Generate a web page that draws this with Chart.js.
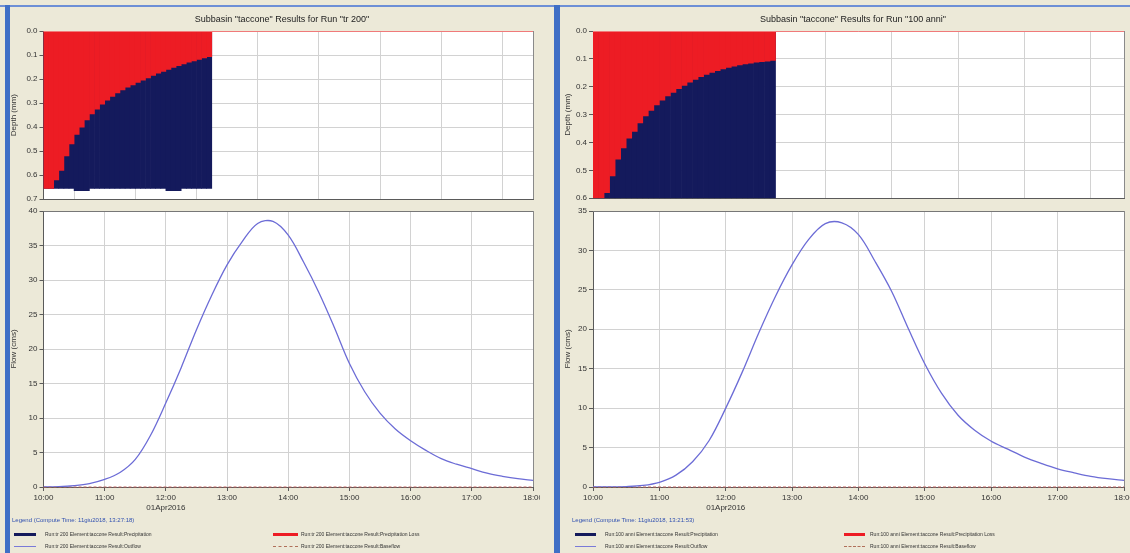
<!DOCTYPE html>
<html>
<head>
<meta charset="utf-8">
<script src="https://cdn.jsdelivr.net/npm/chart.js@4.4.1/dist/chart.umd.min.js"></script>
<style>
  body { margin: 0; width: 1130px; height: 553px; background: #ece9d8; position: relative; overflow: hidden; font-family: "Liberation Sans", Arial, sans-serif; }
  .clip { position: absolute; top: 0; height: 553px; overflow: hidden; }
  .clip canvas { position: absolute; }
  .bar { position: absolute; background: #3f6fc6; }
  .title { position: absolute; top: 14px; font-size: 9px; color: #222; transform: translateX(-50%); white-space: nowrap; }
  .legTitle { position: absolute; font-size: 6px; color: #3050b0; white-space: nowrap; }
  .legItem { position: absolute; font-size: 5px; color: #333; white-space: nowrap; }
  .sw { position: absolute; }
</style>
</head>
<body>

<div class="clip" style="left:0; width:540px;">
  <canvas id="depthTr200" width="548" height="184" style="left:5px; top:22px;"></canvas>
  <canvas id="flowTr200" width="548" height="314" style="left:5px; top:203px;"></canvas>
</div>
<div class="clip" style="left:556px; width:574px;">
  <canvas id="depth100" width="581" height="183" style="left:3px; top:22px;"></canvas>
  <canvas id="flow100" width="581" height="314" style="left:3px; top:203px;"></canvas>
</div>

<!-- cornici blu delle finestre -->
<div class="bar" style="left:0; top:5px; width:1130px; height:2px; background:#6d8fd6;"></div>
<div class="bar" style="left:5px; top:5px; width:5px; height:548px;"></div>
<div class="bar" style="left:554px; top:5px; width:6px; height:548px;"></div>

<div class="title" style="left:282px;">Subbasin "taccone" Results for Run "tr 200"</div>
<div class="title" style="left:853px;">Subbasin "taccone" Results for Run "100 anni"</div>

<!-- legenda sinistra -->
<div class="legTitle" style="left:12px; top:517px;">Legend (Compute Time: 11giu2018, 13:27:18)</div>
<div class="sw" style="left:14px; top:533px; width:22px; height:3px; background:#141a5c;"></div>
<div class="legItem" style="left:45px; top:531px;">Run:tr 200 Element:taccone Result:Precipitation</div>
<div class="sw" style="left:273px; top:533px; width:25px; height:3px; background:#ed1c24;"></div>
<div class="legItem" style="left:301px; top:531px;">Run:tr 200 Element:taccone Result:Precipitation Loss</div>
<div class="sw" style="left:14px; top:546px; width:22px; height:1px; background:#7a7ad8;"></div>
<div class="legItem" style="left:45px; top:543px;">Run:tr 200 Element:taccone Result:Outflow</div>
<div class="sw" style="left:273px; top:546px; width:25px; height:0; border-top:1px dashed #b0705a;"></div>
<div class="legItem" style="left:301px; top:543px;">Run:tr 200 Element:taccone Result:Baseflow</div>

<!-- legenda destra -->
<div class="legTitle" style="left:572px; top:517px;">Legend (Compute Time: 11giu2018, 13:21:53)</div>
<div class="sw" style="left:575px; top:533px; width:21px; height:3px; background:#141a5c;"></div>
<div class="legItem" style="left:605px; top:531px;">Run:100 anni Element:taccone Result:Precipitation</div>
<div class="sw" style="left:844px; top:533px; width:21px; height:3px; background:#ed1c24;"></div>
<div class="legItem" style="left:870px; top:531px;">Run:100 anni Element:taccone Result:Precipitation Loss</div>
<div class="sw" style="left:575px; top:546px; width:21px; height:1px; background:#7a7ad8;"></div>
<div class="legItem" style="left:605px; top:543px;">Run:100 anni Element:taccone Result:Outflow</div>
<div class="sw" style="left:844px; top:546px; width:21px; height:0; border-top:1px dashed #b0705a;"></div>
<div class="legItem" style="left:870px; top:543px;">Run:100 anni Element:taccone Result:Baseflow</div>

<script>
// ===== Dati =====

const dateLabel = "01Apr2016";

// fine di ogni intervallo di pioggia da 5 minuti
const precipTimes = ["10:05", "10:10", "10:15", "10:20", "10:25", "10:30", "10:35", "10:40", "10:45", "10:50", "10:55",
  "11:00", "11:05", "11:10", "11:15", "11:20", "11:25", "11:30", "11:35", "11:40", "11:45", "11:50", "11:55",
  "12:00", "12:05", "12:10", "12:15", "12:20", "12:25", "12:30", "12:35", "12:40", "12:45"];

const tr200Precip = [0.655, 0.655, 0.655, 0.655, 0.655, 0.655, 0.665, 0.665, 0.665, 0.655, 0.655,
  0.655, 0.655, 0.655, 0.655, 0.655, 0.655, 0.655, 0.655, 0.655, 0.655, 0.655, 0.655,
  0.655, 0.665, 0.665, 0.665, 0.655, 0.655, 0.655, 0.655, 0.655, 0.655];
const tr200Loss = [0.655, 0.655, 0.62, 0.58, 0.52, 0.47, 0.43, 0.40, 0.37, 0.345, 0.325,
  0.305, 0.288, 0.272, 0.258, 0.245, 0.234, 0.224, 0.214, 0.205, 0.195, 0.185, 0.176,
  0.168, 0.160, 0.152, 0.144, 0.137, 0.130, 0.124, 0.118, 0.112, 0.107];

const anni100Precip = [0.6, 0.6, 0.6, 0.6, 0.6, 0.6, 0.6, 0.6, 0.6, 0.6, 0.6,
  0.6, 0.6, 0.6, 0.6, 0.6, 0.6, 0.6, 0.6, 0.6, 0.6, 0.6, 0.6,
  0.6, 0.6, 0.6, 0.6, 0.6, 0.6, 0.6, 0.6, 0.6, 0.6];
const anni100Loss = [0.6, 0.6, 0.58, 0.52, 0.46, 0.42, 0.385, 0.36, 0.33, 0.305, 0.285,
  0.265, 0.248, 0.233, 0.22, 0.207, 0.195, 0.184, 0.174, 0.164, 0.156, 0.149, 0.142,
  0.136, 0.131, 0.126, 0.122, 0.118, 0.115, 0.112, 0.110, 0.108, 0.106];

const flowTimes = ["10:00", "10:15", "10:30", "10:45", "11:00", "11:15", "11:30", "11:45", "12:00", "12:15",
  "12:30", "12:45", "13:00", "13:15", "13:30", "13:45", "14:00", "14:15", "14:30",
  "14:45", "15:00", "15:15", "15:30", "15:45", "16:00", "16:15", "16:30", "16:45", "17:00",
  "17:15", "17:30", "17:45", "18:00"];

const tr200Outflow = [0, 0.05, 0.2, 0.5, 1.1, 2.1, 4.0, 7.5, 12.2, 17.3,
  22.8, 27.8, 32.2, 35.6, 38.2, 38.5, 36.5, 32.6, 28.2,
  23.2, 17.9, 13.8, 10.7, 8.4, 6.7, 5.3, 4.1, 3.3, 2.65,
  2.0, 1.55, 1.2, 0.97];
const anni100Outflow = [0, 0, 0.05, 0.2, 0.6, 1.5, 3.2, 5.9, 10.0, 14.6,
  19.6, 24.2, 28.2, 31.4, 33.4, 33.5, 32.0, 28.6, 24.8,
  20.1, 15.6, 11.9, 9.1, 7.2, 5.8, 4.8, 3.8, 3.0, 2.3,
  1.8, 1.35, 1.05, 0.84];

const baseflowTimes = ["10:00", "11:00", "12:00", "13:00", "14:00", "15:00", "16:00", "17:00", "18:00"];
const tr200Baseflow = [0, 0, 0, 0, 0, 0, 0, 0, 0];
const anni100Baseflow = [0, 0, 0, 0, 0, 0, 0, 0, 0];

// ===== Utilità =====

const toMin = t => { const [h, m] = t.split(":").map(Number); return (h - 10) * 60 + m; };
const hhmm = v => {
  const m = 600 + v;
  return String(Math.floor(m / 60)).padStart(2, "0") + ":" + String(m % 60).padStart(2, "0");
};

const FONT = { family: "'Liberation Sans', Arial, sans-serif", size: 8 };
const TXT = "#333";
const GRID = "#d2d2d2";
const AXIS = "#5a5a5a";

// sfondo bianco e cornice dell'area del grafico
const frame = {
  id: "frame",
  beforeDraw(chart) {
    const a = chart.chartArea, c = chart.ctx;
    c.save();
    c.fillStyle = "#fff";
    c.fillRect(a.left, a.top, a.right - a.left, a.bottom - a.top);
    c.restore();
  },
  afterDraw(chart, args, opts) {
    const a = chart.chartArea, c = chart.ctx;
    c.save();
    c.lineWidth = 1;
    c.strokeStyle = "#8a8a8a";
    c.beginPath(); c.moveTo(Math.round(a.right) + 0.5, a.top); c.lineTo(Math.round(a.right) + 0.5, a.bottom); c.stroke();
    c.strokeStyle = opts.top || "#777";
    c.beginPath(); c.moveTo(a.left, Math.round(a.top) + 0.5); c.lineTo(a.right, Math.round(a.top) + 0.5); c.stroke();
    c.restore();
  }
};

// ===== Grafici =====

function graficoProfondita(id, precip, loss, max, axisW, padding) {
  new Chart(document.getElementById(id), {
    type: "bar",
    data: {
      datasets: [
        {
          label: "Precipitation Loss",
          data: loss.map((v, i) => ({ x: toMin(precipTimes[i]) - 2.5, y: v })),
          backgroundColor: "#ed1c24",
          order: 0
        },
        {
          label: "Precipitation",
          data: precip.map((v, i) => ({ x: toMin(precipTimes[i]) - 2.5, y: v })),
          backgroundColor: "#141a5c",
          order: 1
        }
      ]
    },
    options: {
      responsive: false,
      animation: false,
      datasets: { bar: { grouped: false, barPercentage: 1, categoryPercentage: 1, borderWidth: 0 } },
      layout: { padding },
      plugins: { legend: { display: false }, tooltip: { enabled: false }, frame: { top: "#f07a7a" } },
      scales: {
        x: {
          type: "linear", min: 0, max: 480, offset: false,
          ticks: { display: false, stepSize: 60 },
          grid: { color: GRID, drawTicks: false },
          border: { color: AXIS },
          afterFit: s => { s.height = 6; }
        },
        y: {
          reverse: true, min: 0, max,
          ticks: { stepSize: 0.1, callback: v => v.toFixed(1), font: FONT, color: TXT, padding: 2 },
          grid: { color: GRID, tickLength: 4, tickColor: AXIS },
          border: { color: AXIS },
          title: { display: true, text: "Depth (mm)", font: FONT, color: TXT, padding: { top: 4, bottom: 0 } },
          afterFit: s => { s.width = axisW; }
        }
      }
    },
    plugins: [frame]
  });
}

function graficoPortata(id, flow, base, max, axisW, padding) {
  new Chart(document.getElementById(id), {
    type: "line",
    data: {
      datasets: [
        {
          label: "Outflow",
          data: flow.map((v, i) => ({ x: toMin(flowTimes[i]), y: v })),
          borderColor: "#6c6cd6",
          borderWidth: 1.3,
          pointRadius: 0,
          tension: 0.35,
          order: 0
        },
        {
          label: "Baseflow",
          data: base.map((v, i) => ({ x: toMin(baseflowTimes[i]), y: v })),
          borderColor: "#c0605a",
          borderWidth: 1,
          borderDash: [3, 2],
          pointRadius: 0,
          clip: 3,
          order: 1
        }
      ]
    },
    options: {
      responsive: false,
      animation: false,
      layout: { padding },
      plugins: { legend: { display: false }, tooltip: { enabled: false } },
      scales: {
        x: {
          type: "linear", min: 0, max: 480,
          ticks: {
            stepSize: 60, autoSkip: false, maxRotation: 0, padding: 1,
            callback: v => v === 120 ? [hhmm(v), dateLabel] : hhmm(v),
            font: { ...FONT, lineHeight: 1.35 }, color: TXT
          },
          grid: { color: GRID, tickLength: 4, tickColor: AXIS },
          border: { color: AXIS },
          afterFit: s => { s.height = 30; }
        },
        y: {
          min: 0, max,
          ticks: { stepSize: 5, font: FONT, color: TXT, padding: 2 },
          grid: { color: GRID, tickLength: 4, tickColor: AXIS },
          border: { color: AXIS },
          title: { display: true, text: "Flow (cms)", font: FONT, color: TXT, padding: { top: 4, bottom: 0 } },
          afterFit: s => { s.width = axisW; }
        }
      }
    },
    plugins: [frame]
  });
}

graficoProfondita("depthTr200", tr200Precip, tr200Loss, 0.7, 38.5, { left: 0, top: 9, right: 20, bottom: 0 });
graficoPortata("flowTr200", tr200Outflow, tr200Baseflow, 40, 38.5, { left: 0, top: 8, right: 20, bottom: 0 });
graficoProfondita("depth100", anni100Precip, anni100Loss, 0.6, 34, { left: 0, top: 9, right: 16, bottom: 0 });
graficoPortata("flow100", anni100Outflow, anni100Baseflow, 35, 34, { left: 0, top: 8, right: 16, bottom: 0 });
</script>
</body>
</html>
